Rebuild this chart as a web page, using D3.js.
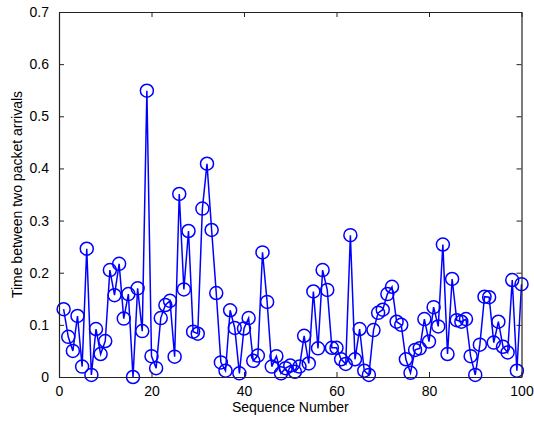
<!DOCTYPE html>
<html>
<head>
<meta charset="utf-8">
<script src="https://cdn.jsdelivr.net/npm/d3@7"></script>
<style>
  body { margin: 0; background: #fff; }
  text { font-family: "Liberation Sans", Arial, sans-serif; fill: #000; }
</style>
</head>
<body>
<svg id="chart" width="534" height="421"></svg>
<script>
// data
const seq = d3.range(1, 101);
const gaps = [0.130, 0.077, 0.050, 0.117, 0.020, 0.246, 0.004, 0.092, 0.044, 0.069,
              0.205, 0.157, 0.217, 0.112, 0.159, 0.000, 0.170, 0.088, 0.549, 0.040,
              0.017, 0.113, 0.138, 0.146, 0.039, 0.351, 0.168, 0.280, 0.087, 0.083,
              0.323, 0.409, 0.282, 0.161, 0.028, 0.012, 0.128, 0.094, 0.007, 0.093,
              0.113, 0.031, 0.041, 0.239, 0.144, 0.020, 0.040, 0.007, 0.017, 0.022,
              0.010, 0.020, 0.079, 0.026, 0.164, 0.055, 0.205, 0.167, 0.056, 0.056,
              0.034, 0.025, 0.272, 0.034, 0.092, 0.012, 0.004, 0.090, 0.123, 0.129,
              0.159, 0.173, 0.106, 0.100, 0.034, 0.008, 0.052, 0.055, 0.111, 0.068,
              0.134, 0.097, 0.254, 0.044, 0.188, 0.109, 0.106, 0.111, 0.040, 0.004,
              0.062, 0.154, 0.153, 0.066, 0.106, 0.058, 0.047, 0.186, 0.012, 0.178];
const xTicks = [0, 20, 40, 60, 80, 100];
const yTicks = [0, 0.1, 0.2, 0.3, 0.4, 0.5, 0.6, 0.7];

const svg = d3.select("#chart"),
    margin = {top: 12, right: 12.5, bottom: 44, left: 59},
    width = +svg.attr("width") - margin.left - margin.right,
    height = +svg.attr("height") - margin.top - margin.bottom,
    tickLen = 5,
    blue = "#0000ff";

const x = d3.scaleLinear().domain([0, 100]).range([0, width]);
const y = d3.scaleLinear().domain([0, 0.7]).range([height, 0]);

const g = svg.append("g")
    .attr("transform", "translate(" + margin.left + "," + margin.top + ")");

const points = seq.map(function(d, i) { return {n: d, v: gaps[i]}; });

// series
const line = d3.line()
    .x(function(d) { return x(d.n); })
    .y(function(d) { return y(d.v); });

g.append("path")
    .datum(points)
    .attr("fill", "none")
    .attr("stroke", blue)
    .attr("stroke-width", 1.5)
    .attr("d", line);

g.append("g")
  .selectAll("circle")
    .data(points)
  .enter().append("circle")
    .attr("cx", function(d) { return x(d.n); })
    .attr("cy", function(d) { return y(d.v); })
    .attr("r", 6.5)
    .attr("fill", "none")
    .attr("stroke", blue)
    .attr("stroke-width", 1.5);

// axes, matlab style: ticks inside, on all four sides
g.append("g")
    .attr("transform", "translate(0," + height + ")")
    .call(d3.axisBottom(x).tickValues(xTicks).tickSizeInner(-tickLen).tickSizeOuter(0).tickPadding(9))
    .call(styleAxis);

g.append("g")
    .call(d3.axisTop(x).tickValues(xTicks).tickSizeInner(-tickLen).tickSizeOuter(0).tickFormat(""))
    .call(styleAxis);

g.append("g")
    .call(d3.axisLeft(y).tickValues(yTicks).tickSizeInner(-tickLen).tickSizeOuter(0).tickPadding(10)
      .tickFormat(function(d) { return d === 0 ? "0" : d3.format(".1f")(d); }))
    .call(styleAxis);

g.append("g")
    .attr("transform", "translate(" + width + ",0)")
    .call(d3.axisRight(y).tickValues(yTicks).tickSizeInner(-tickLen).tickSizeOuter(0).tickFormat(""))
    .call(styleAxis);

// labels
g.append("text")
    .attr("x", width / 2)
    .attr("y", height + 35)
    .attr("text-anchor", "middle")
    .style("font-size", "14px")
    .text("Sequence Number");

g.append("text")
    .attr("transform", "translate(" + (-37) + "," + (height / 2) + ") rotate(-90)")
    .attr("text-anchor", "middle")
    .style("font-size", "14px")
    .text("Time between two packet arrivals");

function styleAxis(sel) {
  sel.select(".domain").attr("stroke", "#222").attr("stroke-width", 1.2);
  sel.selectAll(".tick line").attr("stroke", "#222").attr("stroke-width", 1);
  sel.selectAll(".tick text")
      .style("font-size", "14px")
      .style("font-family", "Liberation Sans, Arial, sans-serif")
      .attr("fill", "#000");
}
</script>
</body>
</html>
